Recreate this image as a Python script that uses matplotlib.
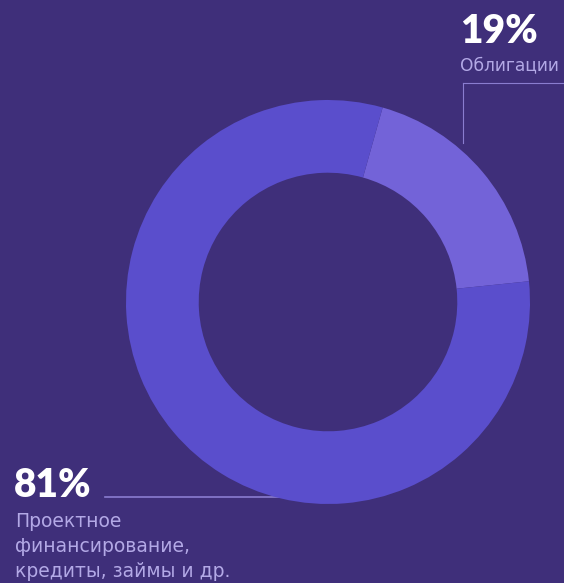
import matplotlib.pyplot as plt

# Portfolio split
labels = ['Облигации', 'Проектное\nфинансирование,\nкредиты, займы и др.']
shares = [19, 81]
pct_labels = ['19%', '81%']
colors = ['#7363d8', '#5a4ecc']

BG = '#3f2f7a'
TEXT_LIGHT = '#b3a9e6'
LINE = '#8a7dd0'

W, H = 564, 583
fig = plt.figure(figsize=(W / 100, H / 100), dpi=100, facecolor=BG)
ax = fig.add_axes([0, 0, 1, 1])
ax.set_facecolor(BG)

# Donut, drawn clockwise starting just right of 12 o'clock
ax.pie(shares, colors=colors, startangle=74.3, counterclock=False,
       center=(328, H - 302), radius=202, frame=True,
       wedgeprops=dict(width=202 * 0.36, linewidth=0))

# Leader lines (the lower one runs under the ring)
ax.plot([463, W], [H - 83, H - 83], color=LINE, lw=0.8, zorder=0)
ax.plot([463, 463], [H - 83, H - 143], color=LINE, lw=0.8, zorder=0)
ax.plot([105, 300], [H - 497, H - 497], color=LINE, lw=1.2, zorder=0)

# Labels
ax.text(460, H - 43, pct_labels[0], color='white', fontsize=28,
        fontfamily='Lato', fontweight='heavy', va='baseline', ha='left')
ax.text(460, H - 70, labels[0], color=TEXT_LIGHT, fontsize=12.3,
        fontfamily='DejaVu Sans', va='baseline', ha='left')

ax.text(14, H - 497, pct_labels[1], color='white', fontsize=28,
        fontfamily='Lato', fontweight='heavy', va='baseline', ha='left')
for i, line in enumerate(labels[1].split('\n')):
    ax.text(15, H - 527 - 25 * i, line, color=TEXT_LIGHT, fontsize=13.5,
            fontfamily='DejaVu Sans', va='baseline', ha='left')

ax.set_xlim(0, W)
ax.set_ylim(0, H)
ax.set_aspect('equal')
ax.axis('off')

fig.savefig('out.png', dpi=100, facecolor=BG)
